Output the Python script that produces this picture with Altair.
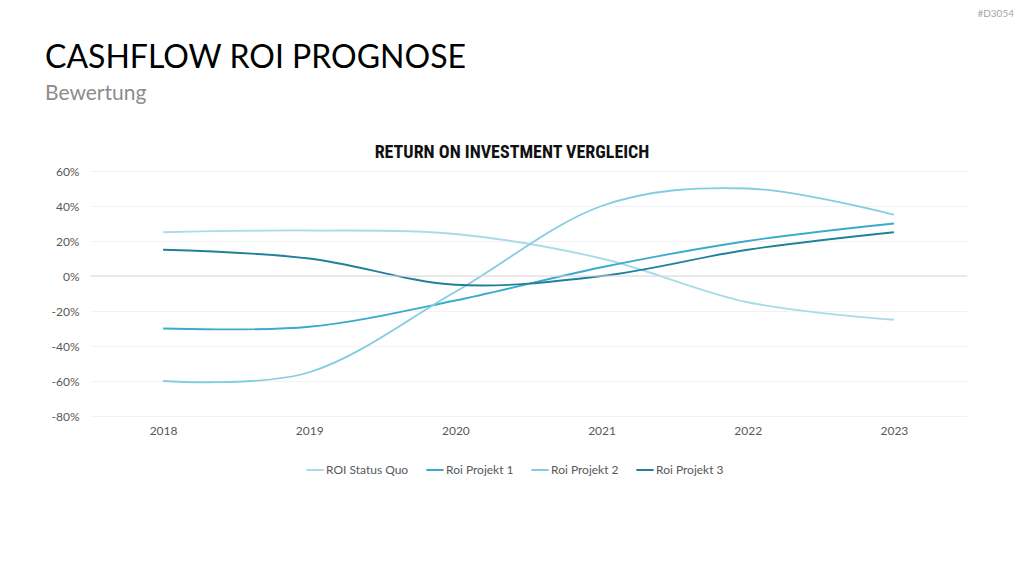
import altair as alt
import pandas as pd

# Jahre und ROI-Werte je Szenario (in %)
jahre = ["2018", "2019", "2020", "2021", "2022", "2023"]
status_quo = [25, 26, 24, 10, -15, -25]
projekt_1 = [-30, -29, -14, 5, 20, 30]
projekt_2 = [-60, -55, -9, 40, 50, 35]
projekt_3 = [15, 10, -5, 0, 15, 25]

serien = ["ROI Status Quo", "Roi Projekt 1", "Roi Projekt 2", "Roi Projekt 3"]
farben = ["#a9dbe8", "#3aabcc", "#82cde1", "#21809a"]
y_ticks = [-80, -60, -40, -20, 0, 20, 40, 60]

werte = [status_quo, projekt_1, projekt_2, projekt_3]
rows = []
for name, reihe in zip(serien, werte):
    for j, v in zip(jahre, reihe):
        rows.append({"Jahr": j, "Serie": name, "ROI": v / 100})
df = pd.DataFrame(rows)

FONT = "Lato"
W, H = 877, 245

y_scale = alt.Scale(domain=[-0.8, 0.6], nice=False, zero=False)
y_axis = alt.Axis(
    title=None, format=".0%", values=[v / 100 for v in y_ticks],
    labelExpr="replace(datum.label, '\u2212', '-')",
    labelOverlap=False,
    domain=False, ticks=False, grid=True, gridColor="#f2f2f2",
    labelPadding=11, labelFontSize=12, labelColor="#595959", labelFont=FONT,
)

lines = alt.Chart(df).mark_line(interpolate="cardinal", strokeWidth=1.8).encode(
    x=alt.X(
        "Jahr:O",
        scale=alt.Scale(type="point", padding=0.5),
        axis=alt.Axis(
            title=None, labelAngle=0, domain=False, ticks=False, grid=False,
            labelPadding=9, labelFontSize=12, labelColor="#595959", labelFont=FONT,
        ),
    ),
    y=alt.Y("ROI:Q", scale=y_scale, axis=y_axis),
    color=alt.Color(
        "Serie:N",
        scale=alt.Scale(domain=serien, range=farben),
        legend=alt.Legend(
            title=None, orient="none", legendX=215, legendY=289, direction="horizontal",
            symbolType="stroke", symbolStrokeWidth=2, symbolSize=300,
            labelFontSize=12, labelColor="#595959", labelFont=FONT,
            columnPadding=13, labelOffset=1,
        ),
    ),
)

# hervorgehobene Nulllinie
zero = alt.Chart(pd.DataFrame({"y": [0]})).mark_rule(color="#d9d9d9", strokeWidth=1).encode(
    y=alt.Y("y:Q", scale=y_scale, axis=y_axis)
)

def label(text, x, y, size, color, font=FONT, weight="normal", align="left"):
    return alt.Chart(pd.DataFrame({"t": [text]})).mark_text(
        align=align, baseline="alphabetic", fontSize=size, color=color,
        font=font, fontWeight=weight,
    ).encode(text="t:N", x=alt.value(x), y=alt.value(y))

titel = label("CASHFLOW ROI PROGNOSE", -45, -103, 32, "#000000")
untertitel = label("Bewertung", -45, -71, 21, "#8c8c8c")
diagrammtitel = label("RETURN ON INVESTMENT VERGLEICH", 422, -13, 18, "#111111",
                      font="Roboto Condensed, Liberation Sans Narrow, DejaVu Sans Condensed",
                      weight="bold", align="center")
kennung = label("#D3054", 924, -154, 10, "#a6a6a6", align="right")

chart = alt.layer(lines, zero, titel, untertitel, diagrammtitel, kennung).properties(
    width=W, height=H,
    autosize=alt.AutoSizeParams(type="none"),
    padding={"left": 90, "top": 171, "right": 57, "bottom": 160},
).configure(background="white").configure_view(stroke=None, strokeWidth=0)

chart.save("out.html", embed_options={"renderer": "svg", "actions": False})
